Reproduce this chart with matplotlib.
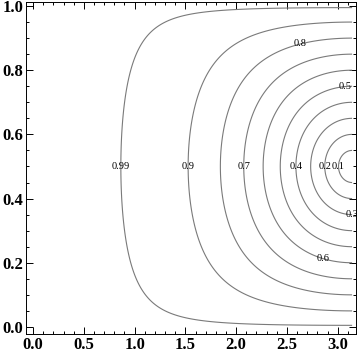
import numpy as np
import matplotlib.pyplot as plt
from matplotlib.ticker import MultipleLocator

# contour levels and where their labels sit
levels = [0.1, 0.2, 0.3, 0.4, 0.5, 0.6, 0.7, 0.8, 0.9, 0.99]
label_pos = [(0.82, 0.5), (1.52, 0.5), (2.08, 0.5), (2.63, 0.885),
             (3.08, 0.74), (2.85, 0.21), (2.61, 0.5), (3.14, 0.36),
             (2.88, 0.5), (3.02, 0.5)]
k = 4.5   # exponent of the sin term, fitted to the contour positions

def field(x, y):
    return np.sqrt(1 - 4*y*(1 - y)*np.sin(x/2)**k)

xs = np.linspace(0, np.pi, 500)
ys = np.linspace(0, 1, 500)
X, Y = np.meshgrid(xs, ys)
Z = field(X, Y)

plt.rcParams['font.family'] = ['Liberation Serif', 'DejaVu Serif']

fig = plt.figure(figsize=(3.6, 3.57), dpi=100)
ax = fig.add_axes([26/360, 23/357, 330/360, 332/357])

cs = ax.contour(X, Y, Z, levels=levels, colors='#7a7a7a', linewidths=0.8)
texts = ax.clabel(cs, inline=False, fontsize=7.5, fmt='%g', colors='black',
                  manual=label_pos)
for t in texts:
    t.set_rotation(0)

ax.set_xlim(-0.07, 3.18)
ax.set_ylim(-0.022, 1.0125)
ax.xaxis.set_major_locator(MultipleLocator(0.5))
ax.xaxis.set_minor_locator(MultipleLocator(0.1))
ax.yaxis.set_major_locator(MultipleLocator(0.2))
ax.yaxis.set_minor_locator(MultipleLocator(0.05))
ax.xaxis.set_major_formatter(plt.FormatStrFormatter('%.1f'))
ax.yaxis.set_major_formatter(plt.FormatStrFormatter('%.1f'))
ax.tick_params(which='both', direction='in', top=True, right=True,
               width=0.7, labelsize=12, pad=2)
ax.tick_params(which='major', length=5)
ax.tick_params(which='minor', length=2.5)
for lab in ax.get_xticklabels() + ax.get_yticklabels():
    lab.set_fontweight('bold')
for s in ax.spines.values():
    s.set_linewidth(0.7)

fig.savefig('out.png', dpi=100)
